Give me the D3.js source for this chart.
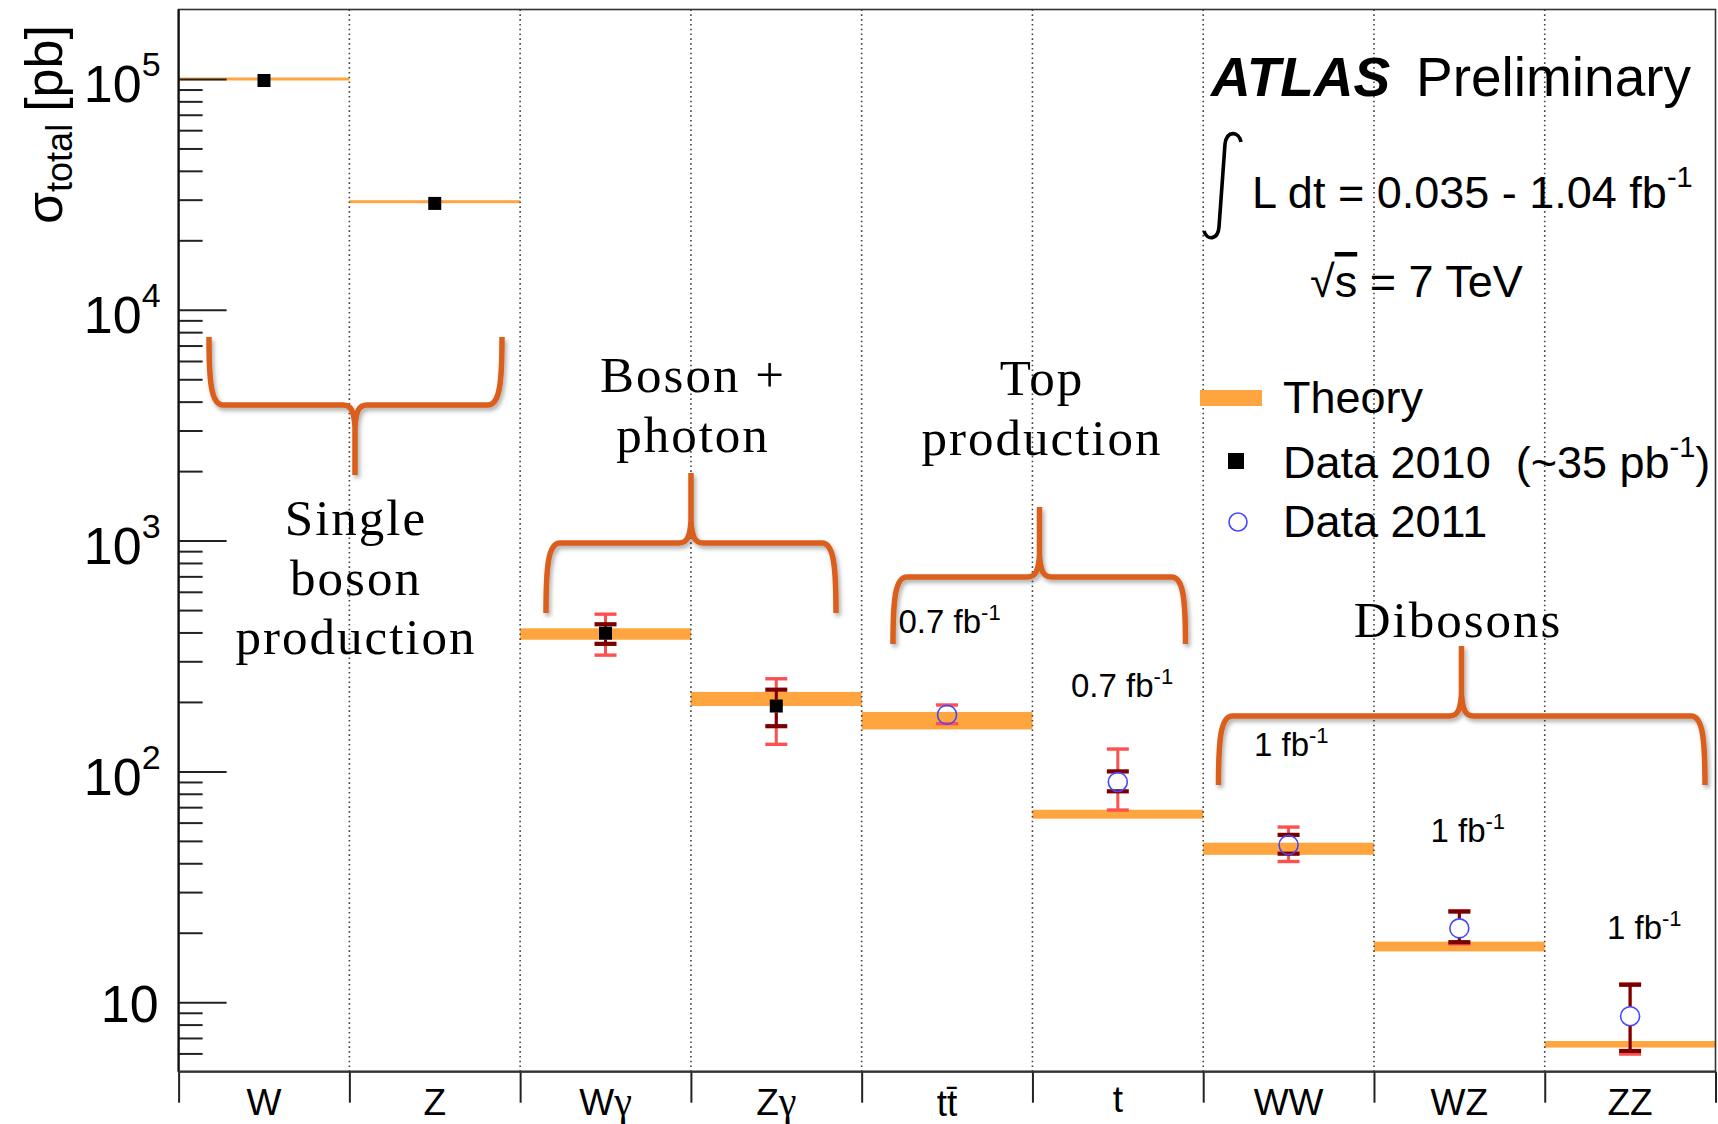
<!DOCTYPE html>
<html>
<head>
<meta charset="utf-8">
<script src="https://cdn.jsdelivr.net/npm/d3@7"></script>
<style>
  html, body { margin: 0; padding: 0; background: #fff; }
  svg { display: block; }
  text { font-family: "Liberation Sans", Arial, Helvetica, sans-serif; fill: #000; white-space: pre; }
  .serif { font-family: "Liberation Serif", "Times New Roman", serif; letter-spacing: 2px; }
</style>
</head>
<body>
<svg id="chart" width="1718" height="1124"></svg>
<script>
// ---- data ---------------------------------------------------------------
// Processes along the horizontal axis
const categories = ["W", "Z", "Wγ", "Zγ", "tt\u0304", "t", "WW", "WZ", "ZZ"];

// Theory prediction band (lower / upper edge), pb
const theoryLow  = [98500, 28960, 372, 192, 152, 62.4, 43.5, 16.6, 6.36];
const theoryHigh = [101500, 29840, 417, 221, 181, 68.2, 49.1, 18.3, 6.79];

// Measured total cross sections, pb
const measured = [98500, 28900, 397, 192, 176, 90, 48, 20.9, 8.7];

// Statistical uncertainty range, pb
const statLow  = [98500, 28900, 357, 157, 171, 82, 44.0, 18.2, 6.15];
const statHigh = [98500, 28900, 434, 226, 181, 100, 53.1, 24.7, 11.9];

// Total uncertainty range, pb
const totalLow  = [98500, 28900, 319, 131, 161, 68, 40.7, 17.9, 5.96];
const totalHigh = [98500, 28900, 480, 252, 194, 125, 57.4, 24.9, 12.0];

// Data-taking period of each measurement
const dataset = ["2010", "2010", "2010", "2010", "2011", "2011", "2011", "2011", "2011"];

// Integrated luminosity used by the 2011 measurements, fb^-1
const lumiLabels = ["", "", "", "", "0.7", "0.7", "1", "1", "1"];

// Labelled decades on the vertical axis
const yMajorTicks = [10, 100, 1000, 10000, 100000];

// Group annotations
const groupNames = [
  ["Single", "boson", "production"],
  ["Boson +", "photon"],
  ["Top", "production"],
  ["Dibosons"]
];

// ---- layout ---------------------------------------------------------------
const plot = { left: 178.6, right: 1715.5, top: 9.5, bottom: 1071.7 };
const C = {
  theory: "#ffa540",
  stat: "#7a0000",
  total: "#ff5050",
  open: "#4646ff",
  brace: "#da5e1c",
  grid: "#444"
};

const svg = d3.select("#chart");

const y = d3.scaleLog().domain([5, 2e5]).range([plot.bottom, plot.top]);
const x = d3.scaleBand().domain(categories).range([plot.left, plot.right]);
const xEdge = d3.scaleLinear().domain([0, categories.length]).range([plot.left, plot.right]);
const bw = x.bandwidth();

// drop shadow for the curly braces
const defs = svg.append("defs");
const f = defs.append("filter").attr("id", "shadow")
  .attr("x", "-20%").attr("y", "-20%").attr("width", "140%").attr("height", "140%");
f.append("feDropShadow").attr("dx", 2).attr("dy", 3).attr("stdDeviation", 2.2)
  .attr("flood-color", "#000").attr("flood-opacity", 0.32);

// ---- theory bands -----------------------------------------------------------
svg.append("g").selectAll("rect")
  .data(categories)
  .join("rect")
  .attr("x", d => x(d))
  .attr("width", bw)
  .attr("y", (d, i) => y(theoryHigh[i]))
  .attr("height", (d, i) => Math.max(3, y(theoryLow[i]) - y(theoryHigh[i])))
  .attr("fill", C.theory);

// ---- dotted separators between processes ----------------------------------
svg.append("g").selectAll("line")
  .data(d3.range(1, categories.length))
  .join("line")
  .attr("x1", d => xEdge(d)).attr("x2", d => xEdge(d))
  .attr("y1", plot.top).attr("y2", plot.bottom)
  .attr("stroke", C.grid).attr("stroke-width", 1.6)
  .attr("stroke-dasharray", "1.6,3.2");

// ---- axes -------------------------------------------------------------------
// minor ticks: the scale's own log ticks that are not decades
const minor = y.ticks().filter(v => !yMajorTicks.includes(v) && v > 5 && v < 2e5);
const gMinor = svg.append("g").attr("transform", `translate(${plot.left},0)`)
  .call(d3.axisLeft(y).tickValues(minor).tickSize(-24).tickFormat(""));
gMinor.select(".domain").remove();
gMinor.selectAll(".tick line").attr("stroke", "#222").attr("stroke-width", 2);

const gMajor = svg.append("g").attr("transform", `translate(${plot.left},0)`)
  .call(d3.axisLeft(y).tickValues(yMajorTicks).tickSize(-48).tickFormat(""));
gMajor.select(".domain").remove();
gMajor.selectAll(".tick line").attr("stroke", "#222").attr("stroke-width", 2);
gMajor.selectAll(".tick").each(function (v) {
  const e = Math.round(Math.log10(v));
  const t = d3.select(this).append("text")
    .attr("text-anchor", "end")
    .attr("font-size", 52)
    .style("fill", "#000");
  if (e === 1) {
    t.attr("x", -20).attr("y", 19).text("10");
  } else {
    t.attr("x", -18).attr("y", 23);
    t.append("tspan").text("10");
    t.append("tspan").attr("font-size", 34).attr("dy", -26).text(e);
  }
});

// ticks at the process boundaries
const gXTicks = svg.append("g").attr("transform", `translate(0,${plot.bottom})`)
  .call(d3.axisBottom(xEdge).tickValues(d3.range(categories.length + 1)).tickSize(31).tickFormat(""));
gXTicks.select(".domain").remove();
gXTicks.selectAll(".tick line").attr("stroke", "#222").attr("stroke-width", 2);

// process names (greek gamma set in a serif face)
const labelShift = { "t": -3, "tt\u0304": 1 };
const gXLabels = svg.append("g").attr("transform", `translate(0,${plot.bottom})`)
  .call(d3.axisBottom(x).tickSize(0).tickPadding(17).tickFormat(""));
gXLabels.select(".domain").remove();
gXLabels.selectAll(".tick text")
  .attr("font-size", 37)
  .style("fill", "#000")
  .attr("transform", d => `translate(0,${labelShift[d] || 0})`)
  .each(function (d) {
    const t = d3.select(this);
    if (d.endsWith("γ")) {
      t.append("tspan").text(d.slice(0, -1));
      t.append("tspan").attr("font-family", "Liberation Serif, Times New Roman, serif")
        .attr("font-size", 40).text("γ");
    } else {
      t.text(d);
    }
  });

// frame
svg.append("rect")
  .attr("x", plot.left).attr("y", plot.top)
  .attr("width", plot.right - plot.left).attr("height", plot.bottom - plot.top)
  .attr("fill", "none").attr("stroke", "#333").attr("stroke-width", 1.6);
svg.append("line")
  .attr("x1", plot.left).attr("x2", plot.left)
  .attr("y1", plot.top).attr("y2", plot.bottom)
  .attr("stroke", "#111").attr("stroke-width", 2.2);
svg.append("line")
  .attr("x1", plot.left).attr("x2", plot.right)
  .attr("y1", plot.bottom).attr("y2", plot.bottom)
  .attr("stroke", "#333").attr("stroke-width", 2.2);

// y-axis title
const yTitle = svg.append("text")
  .attr("transform", "translate(62,224) rotate(-90)")
  .attr("font-size", 52);
yTitle.append("tspan").text("σ");
yTitle.append("tspan").attr("font-size", 36).attr("dy", 10).text("total");
yTitle.append("tspan").attr("dy", -10).attr("dx", 12).text("[pb]");

// ---- measurements -----------------------------------------------------------
const markerHalf = i => dataset[i] === "2010" ? 6.5 : 9.5;
const capW = 22;

function errorBar(g, lo, hi, i, color, width, capWidth) {
  const cx = x(categories[i]) + bw / 2;
  const yv = y(measured[i]);
  const yHi = y(hi), yLo = y(lo);
  const gap = markerHalf(i);
  if (yLo - yHi < 1) return;
  const segs = [];
  if (yv - gap > yHi) segs.push([yHi, yv - gap]);
  if (yv + gap < yLo) segs.push([yv + gap, yLo]);
  segs.forEach(s => g.append("line")
    .attr("x1", cx).attr("x2", cx).attr("y1", s[0]).attr("y2", s[1])
    .attr("stroke", color).attr("stroke-width", width));
  // caps hidden behind the marker are left out
  [yHi, yLo].filter(yy => Math.abs(yy - yv) > gap - 2).forEach(yy => g.append("line")
    .attr("x1", cx - capW / 2).attr("x2", cx + capW / 2)
    .attr("y1", yy).attr("y2", yy)
    .attr("stroke", color).attr("stroke-width", capWidth));
}

const gTot = svg.append("g");
const gStat = svg.append("g");
categories.forEach((c, i) => {
  errorBar(gTot, totalLow[i], totalHigh[i], i, C.total, 3, 3.4);
  errorBar(gStat, statLow[i], statHigh[i], i, C.stat, 3, 4.2);
});

const idx = d3.range(categories.length);
svg.append("g").selectAll("rect")
  .data(idx.filter(i => dataset[i] === "2010"))
  .join("rect")
  .attr("x", i => x(categories[i]) + bw / 2 - 6.5)
  .attr("y", i => y(measured[i]) - 6.5)
  .attr("width", 13).attr("height", 13)
  .attr("fill", "#000");
svg.append("g").selectAll("circle")
  .data(idx.filter(i => dataset[i] === "2011"))
  .join("circle")
  .attr("cx", i => x(categories[i]) + bw / 2)
  .attr("cy", i => y(measured[i]))
  .attr("r", 9.5)
  .attr("fill", "none")
  .attr("stroke", C.open).attr("stroke-width", 1.6);

// luminosity notes
const lumiPos = [null, null, null, null, [898.5, 633], [1071, 697], [1254, 756], [1430.5, 842], [1607, 939]];
const gLumi = svg.append("g");
lumiLabels.forEach((l, i) => {
  if (!l) return;
  const t = gLumi.append("text").attr("x", lumiPos[i][0]).attr("y", lumiPos[i][1]).attr("font-size", 33);
  t.append("tspan").text(l + " fb");
  t.append("tspan").attr("font-size", 22).attr("dy", -13).text("-1");
});

// ---- group braces -------------------------------------------------------------
function bracePath(b) {
  const { x1, x2, yEnd, yBar, xt, yt } = b;
  const s = Math.sign(yEnd - yBar);
  const h = yEnd - yBar;
  const r = 14;
  return `M${x1},${yEnd} C${x1},${yBar + h * 0.35} ${x1 + 2},${yBar} ${x1 + r},${yBar}` +
    ` L${xt - 12},${yBar} C${xt - 4},${yBar} ${xt - 1},${yBar - s * 6} ${xt},${yBar - s * 22} L${xt},${yt}` +
    ` M${xt},${yBar - s * 22} C${xt + 1},${yBar - s * 6} ${xt + 4},${yBar} ${xt + 12},${yBar}` +
    ` L${x2 - r},${yBar} C${x2 - 2},${yBar} ${x2},${yBar + h * 0.35} ${x2},${yEnd}`;
}
const braces = [
  { x1: 209, x2: 502, yEnd: 337, yBar: 405, xt: 355, yt: 475 },
  { x1: 546, x2: 836, yEnd: 613, yBar: 543, xt: 691, yt: 473 },
  { x1: 893, x2: 1185.5, yEnd: 644, yBar: 577, xt: 1039.5, yt: 507 },
  { x1: 1218.5, x2: 1705, yEnd: 785, yBar: 716, xt: 1461.5, yt: 646 }
];
const groupText = [
  { x: 356, y: 535 },
  { x: 693, y: 392 },
  { x: 1042, y: 395 },
  { x: 1458, y: 637 }
];
const gBr = svg.append("g").attr("filter", "url(#shadow)");
gBr.selectAll("path").data(braces).join("path")
  .attr("d", bracePath)
  .attr("fill", "none")
  .attr("stroke", C.brace)
  .attr("stroke-width", 5.5)
  .attr("stroke-linejoin", "round");

groupNames.forEach((lines, k) => {
  const t = svg.append("text").attr("class", "serif")
    .attr("text-anchor", "middle").attr("font-size", 51);
  lines.forEach((ln, j) => t.append("tspan")
    .attr("x", groupText[k].x).attr("y", groupText[k].y + j * 59.5).text(ln));
});

// ---- experiment label and legend ----------------------------------------------
const atlas = svg.append("text").attr("x", 1211).attr("y", 96).attr("font-size", 55);
atlas.append("tspan").attr("font-weight", "bold").attr("font-style", "italic").text("ATLAS");
atlas.append("tspan").attr("x", 1416).text("Preliminary");

// integral sign
svg.append("path")
  .attr("d", "M1241,142 C1239,131 1227,130 1225,144 L1219,227 C1218,240 1207,241 1204,231")
  .attr("fill", "none").attr("stroke", "#000").attr("stroke-width", 3.6);
const lumi = svg.append("text").attr("x", 1252).attr("y", 208).attr("font-size", 45);
lumi.append("tspan").text("L dt = 0.035 - 1.04 fb");
lumi.append("tspan").attr("font-size", 29).attr("dy", -21).text("-1");

const sqrtS = svg.append("text").attr("x", 1310).attr("y", 297).attr("font-size", 45);
sqrtS.append("tspan").text("√");
sqrtS.append("tspan").style("text-decoration", "overline").text("s");
sqrtS.append("tspan").text(" = 7 TeV");

// legend
const leg = svg.append("g");
leg.append("rect").attr("x", 1200).attr("y", 390).attr("width", 62).attr("height", 16).attr("fill", C.theory);
leg.append("text").attr("x", 1283).attr("y", 413).attr("font-size", 45).text("Theory");
leg.append("rect").attr("x", 1228).attr("y", 453).attr("width", 16).attr("height", 16).attr("fill", "#000");
const l2 = leg.append("text").attr("x", 1283).attr("y", 478).attr("font-size", 45);
l2.append("tspan").text("Data 2010  (~35 pb");
l2.append("tspan").attr("font-size", 29).attr("dy", -21).text("-1");
l2.append("tspan").attr("dy", 21).text(")");
leg.append("circle").attr("cx", 1238).attr("cy", 522).attr("r", 9)
  .attr("fill", "none").attr("stroke", C.open).attr("stroke-width", 1.6);
leg.append("text").attr("x", 1283).attr("y", 537).attr("font-size", 45).text("Data 2011");
</script>
</body>
</html>
